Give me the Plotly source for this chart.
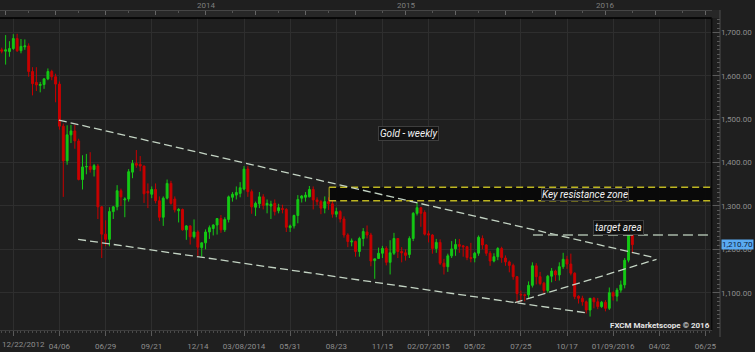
import pandas as pd
import plotly.graph_objects as go

# ---------------- data ----------------
first_week = "2012-12-22"
opens = [1660,1657,1656,1663,1686,1658,1667,1669,1610,1585,1578,1580,1593,1610,1598,1581,1484,1404,1464,1473,
         1450,1361,1390,1391,1384,1392,1298,1235,1223,1287,1298,1335,1314,1316,1378,1398,1396,1392,1334,1327,
         1338,1312,1274,1318,1352,1316,1289,1292,1245,1254,1229,1240,1204,1215,1240,1248,1256,1271,1245,1269,
         1320,1325,1329,1339,1385,1333,1297,1305,1321,1302,1300,1306,1289,1294,1292,1250,1254,1278,1318,1320,
         1321,1338,1314,1310,1295,1310,1305,1281,1287,1270,1233,1217,1218,1195,1225,1240,1233,1174,1179,1191,
         1202,1170,1191,1225,1195,1192,1188,1225,1283,1296,1285,1236,1233,1202,1216,1168,1160,1185,1201,1211,
         1208,1206,1181,1180,1191,1225,1210,1191,1173,1183,1202,1180,1171,1163,1137,1096,1095,1095,1117,1162,
         1137,1122,1105,1138,1150,1141,1160,1177,1166,1145,1092,1087,1079,1060,1087,1079,1068,1078,1064,1100,
         1092,1106,1118,1175,1237]
highs = [1665,1694,1680,1696,1697,1685,1684,1675,1620,1620,1586,1595,1617,1614,1605,1587,1490,1486,1487,1487,
         1455,1417,1420,1424,1397,1397,1300,1267,1297,1300,1348,1340,1320,1385,1406,1429,1415,1393,1352,1345,
         1352,1322,1322,1361,1358,1322,1295,1294,1256,1256,1269,1244,1216,1246,1255,1258,1272,1279,1274,1324,
         1332,1345,1355,1392,1392,1338,1310,1332,1327,1315,1312,1315,1305,1303,1295,1257,1280,1325,1325,1332,
         1346,1345,1320,1314,1322,1320,1312,1296,1290,1276,1237,1225,1220,1229,1249,1255,1238,1177,1204,1208,
         1207,1221,1238,1226,1205,1200,1230,1286,1307,1298,1290,1243,1235,1224,1223,1178,1190,1219,1224,1224,
         1210,1208,1215,1194,1232,1232,1212,1196,1191,1205,1206,1186,1174,1167,1138,1105,1098,1126,1170,1168,
         1148,1125,1141,1157,1153,1170,1192,1185,1190,1147,1094,1093,1082,1088,1090,1088,1081,1083,1112,1103,
         1111,1128,1180,1264,1243]
lows = [1652,1626,1644,1660,1655,1652,1660,1598,1555,1565,1562,1570,1590,1590,1539,1476,1321,1395,1445,1432,
        1359,1338,1373,1377,1368,1270,1180,1207,1207,1270,1290,1300,1274,1310,1364,1388,1380,1307,1295,1318,
        1306,1265,1254,1315,1303,1285,1262,1243,1222,1211,1225,1185,1183,1200,1224,1232,1234,1238,1240,1262,
        1310,1315,1320,1336,1321,1282,1277,1295,1292,1283,1270,1278,1283,1283,1240,1240,1248,1260,1308,1310,
        1320,1292,1302,1281,1283,1291,1273,1274,1262,1227,1205,1207,1183,1183,1207,1225,1161,1132,1178,1180,
        1163,1142,1187,1180,1170,1174,1180,1219,1278,1252,1232,1216,1190,1192,1164,1142,1148,1180,1185,1192,
        1183,1175,1170,1170,1185,1200,1185,1162,1170,1175,1169,1162,1147,1130,1077,1078,1080,1088,1112,1119,
        1117,1098,1100,1124,1127,1128,1155,1155,1140,1085,1075,1070,1052,1045,1064,1062,1065,1057,1060,1082,
        1080,1100,1110,1170,1191]
closes = [1657,1660,1663,1686,1658,1668,1669,1610,1582,1579,1580,1593,1610,1598,1581,1484,1404,1464,1473,1450,
          1361,1390,1391,1384,1393,1298,1235,1223,1287,1298,1335,1321,1316,1379,1398,1394,1392,1328,1330,1338,
          1312,1274,1318,1352,1306,1291,1292,1245,1254,1229,1240,1205,1215,1240,1250,1256,1271,1245,1269,1321,
          1327,1331,1342,1385,1333,1298,1306,1321,1301,1306,1304,1287,1296,1292,1251,1254,1278,1315,1323,1325,
          1338,1314,1310,1295,1310,1305,1281,1287,1270,1233,1218,1219,1195,1225,1241,1233,1173,1178,1191,1202,
          1170,1192,1225,1195,1192,1186,1225,1283,1296,1283,1235,1233,1202,1216,1168,1160,1185,1201,1211,1207,
          1206,1181,1179,1191,1228,1210,1191,1173,1183,1202,1181,1171,1163,1137,1098,1095,1094,1117,1162,1137,
          1121,1105,1138,1150,1141,1160,1177,1166,1145,1091,1087,1079,1060,1087,1079,1068,1078,1064,1100,1092,
          1106,1118,1175,1237,1210.7]
week_dates = pd.date_range(first_week, periods=len(opens), freq="7D")
last_price = closes[-1]

x_tick_dates = ["2013-01-12", "2013-04-06", "2013-06-29", "2013-09-21", "2013-12-14", "2014-03-08",
                "2014-05-31", "2014-08-23", "2014-11-15", "2015-02-07", "2015-05-02", "2015-07-25",
                "2015-10-17", "2016-01-09", "2016-04-02", "2016-06-25"]
x_tick_labels = ["", "04/06", "06/29", "09/21", "12/14", "03/08/2014", "05/31", "08/23", "11/15",
                 "02/07/2015", "05/02", "07/25", "10/17", "01/09/2016", "04/02", "06/25"]
first_date_label = "12/22/2012"
x_range = ["2012-12-18 19:00", "2016-07-06 10:00"]
y_range = [1014, 1733.4]
y_ticks = [1100, 1200, 1300, 1400, 1500, 1600, 1700]

year_starts = ["2013-01-01", "2014-01-01", "2015-01-01", "2016-01-01"]
year_labels = ["", "2014", "2015", "2016"]
quarter_starts = [f"{y}-{m:02d}-01" for y in (2013, 2014, 2015, 2016) for m in (1, 4, 7, 10)]
mid_quarters = [f"{y}-{m:02d}-15" for y in (2013, 2014, 2015, 2016) for m in (2, 5, 8, 11)]
strip_marker_level = 1745

upper_trend_x = ["2013-04-05", "2016-03-21"]
upper_trend_y = [1498, 1182]
lower_trend_x = ["2013-05-10", "2015-11-24"]
lower_trend_y = [1223, 1053]
rising_trend_x = ["2015-07-14", "2016-03-28"]
rising_trend_y = [1077, 1177]
zone_start = "2014-08-10"
zone_levels = [1312, 1343]
target_start = "2015-08-16"
target_level = 1233

title_text = "Gold - weekly"
title_pos = ("2015-01-02", 1467)
zone_text = "Key resistance zone"
zone_label_x = "2015-11-18"
target_text = "target area"
target_label_pos = ("2016-01-19", 1250)
brand_text = "FXCM Marketscope © 2016"


def bar_date(d):
    t = pd.Timestamp(d)
    return t - pd.Timedelta(days=(t.weekday() - 5) % 7)


year_bars = [bar_date(d) for d in year_starts]
quarter_bars = [bar_date(d) for d in quarter_starts]
mid_bars = [bar_date(d) for d in mid_quarters]

# ---------------- geometry / style ----------------
W, H = 755, 352
BG = "#1f1f1f"
GRID = "#2e2e2e"
AX = "#5a5a5a"
TXT = "#8e8e8e"
YEL = "#bdb521"
plot_right = 711.7 / W
axis_x = 720 / W
top_px, strip_px, bottom_px = 10, 18, 330
ph = bottom_px - top_px
dom_top = (bottom_px - strip_px) / ph


def py(pix):
    return (bottom_px - pix) / ph


fig = go.Figure()
fig.add_trace(go.Candlestick(
    x=week_dates, open=opens, high=highs, low=lows, close=closes,
    increasing=dict(line=dict(color="#14c814", width=1), fillcolor="#14c814"),
    decreasing=dict(line=dict(color="#c80000", width=1), fillcolor="#c80000"),
    whiskerwidth=0, hoverinfo="skip", showlegend=False, xaxis="x", yaxis="y"))

fig.add_trace(go.Scatter(
    x=year_bars, y=[strip_marker_level] * len(year_bars), mode="markers",
    marker=dict(symbol="triangle-down", size=7, color="#c8960a", line=dict(width=0)),
    cliponaxis=False, hoverinfo="skip", showlegend=False, xaxis="x2", yaxis="y"))

font_small = dict(family="Roboto", size=8, color=TXT)

fig.update_layout(
    width=W, height=H, margin=dict(l=0, r=0, t=top_px, b=H - bottom_px),
    paper_bgcolor=BG, plot_bgcolor=BG, boxgap=0.3,
    xaxis=dict(type="date", domain=[0, plot_right], range=x_range, anchor="y",
               rangeslider=dict(visible=False),
               tickmode="array", tickvals=x_tick_dates, ticktext=x_tick_labels,
               showgrid=True, gridcolor=GRID, gridwidth=1,
               ticks="outside", ticklen=5, tickcolor=AX, tickwidth=1,
               minor=dict(tick0=first_week, dtick=7 * 86400000, ticks="outside", ticklen=2,
                          tickcolor="#4a4a4a", showgrid=False),
               showline=True, linecolor="#3c3c3c", linewidth=1,
               tickfont=font_small, ticklabelstandoff=3, zeroline=False, automargin=False),
    xaxis2=dict(type="date", overlaying="x", anchor="free", position=1.0, side="top",
                domain=[0, plot_right], range=x_range, showgrid=False,
                tickmode="array", tickvals=quarter_bars, ticks="inside", ticklen=4,
                tickcolor="#666666", showticklabels=False,
                minor=dict(tickmode="array", tickvals=mid_bars, ticks="inside", ticklen=2,
                           tickcolor="#555555", showgrid=False),
                showline=True, linecolor="#454545", linewidth=1, zeroline=False, automargin=False),
    yaxis=dict(domain=[0, dom_top], range=y_range, anchor="free", position=axis_x, side="right",
               tickmode="array", tickvals=y_ticks, tickformat=",.2f",
               showgrid=True, gridcolor=GRID, gridwidth=1,
               ticks="inside", ticklen=8, tickcolor=AX, tickwidth=1,
               minor=dict(dtick=10, ticks="inside", ticklen=3, tickcolor=AX, showgrid=False),
               showline=False, tickfont=font_small, zeroline=False, automargin=False),
)

shapes = []
# top strip
shapes.append(dict(type="rect", xref="paper", yref="paper", x0=0, x1=axis_x, y0=dom_top, y1=1.0,
                   fillcolor="#272727", line=dict(width=0), layer="below"))
shapes.append(dict(type="line", xref="paper", yref="paper", x0=0, x1=plot_right, y0=dom_top, y1=dom_top,
                   line=dict(color="#000000", width=1.5)))
shapes.append(dict(type="line", xref="paper", yref="paper", x0=plot_right, x1=plot_right, y0=0, y1=dom_top,
                   line=dict(color="#0a0a0a", width=1.5)))
shapes.append(dict(type="line", xref="paper", yref="paper", x0=axis_x, x1=axis_x, y0=py(337), y1=1.0,
                   line=dict(color="#4e4e4e", width=1)))
# resistance zone: dark fill, dashed top/bottom, left edge
shapes.append(dict(type="rect", xref="x", yref="y", x0=zone_start, x1=x_range[1],
                   y0=zone_levels[0], y1=zone_levels[1], fillcolor="rgba(8,8,8,0.92)",
                   line=dict(width=0)))
for lvl in zone_levels:
    shapes.append(dict(type="line", xref="x", yref="y", x0=zone_start, x1=x_range[1],
                       y0=lvl, y1=lvl, line=dict(color=YEL, width=1.5, dash="7px,4px")))
shapes.append(dict(type="line", xref="x", yref="y", x0=zone_start, x1=zone_start,
                   y0=zone_levels[0], y1=zone_levels[1], line=dict(color=YEL, width=1)))
# trend lines
trend_line = dict(color="#c4d4c4", width=1.3, dash="8px,4px")
for xs, ys in ((upper_trend_x, upper_trend_y), (lower_trend_x, lower_trend_y),
               (rising_trend_x, rising_trend_y)):
    shapes.append(dict(type="line", xref="x", yref="y", x0=xs[0], x1=xs[1], y0=ys[0], y1=ys[1],
                       line=trend_line))
shapes.append(dict(type="line", xref="x", yref="y", x0=target_start, x1=x_range[1],
                   y0=target_level, y1=target_level,
                   line=dict(color="#a8b8a8", width=1.3, dash="10px,5px")))
fig.update_layout(shapes=shapes)

label_font = dict(family="Roboto", size=10, color="#f2f2f2", style="italic")
box = dict(bgcolor="#111111", bordercolor="#3e3e3e", borderwidth=1, borderpad=1)
ann = []
ann.append(dict(x=title_pos[0], y=title_pos[1], xref="x", yref="y", text=title_text,
                showarrow=False, font=label_font, **box))
ann.append(dict(x=zone_label_x, y=sum(zone_levels) / 2, xref="x", yref="y", text=zone_text,
                showarrow=False, font=label_font, bgcolor="#111111", bordercolor="#3e3e3e",
                borderwidth=1, borderpad=0))
ann.append(dict(x=target_label_pos[0], y=target_label_pos[1], xref="x", yref="y", text=target_text,
                showarrow=False, font=label_font, **box))
ann.append(dict(x=axis_x + 0.6 / W, y=last_price, xref="paper", yref="y", xanchor="left",
                text=f"{last_price:,.2f}", showarrow=False, width=31, height=9,
                bgcolor="#5aaaf2", borderpad=0,
                font=dict(family="Roboto", size=8, color="#0a1a3a")))
ann.append(dict(x=plot_right, y=py(325.5), xref="paper", yref="paper", xanchor="right",
                yanchor="middle", text=brand_text, showarrow=False,
                font=dict(family="Roboto", size=8, color="#e4e4e4", weight="bold")))
ann.append(dict(x=0, y=py(344.5), xref="paper", yref="paper", xanchor="left", yanchor="middle",
                text=first_date_label, showarrow=False, font=font_small))
for d, lab in zip(year_bars, year_labels):
    if lab:
        ann.append(dict(x=d, y=py(5), xref="x", yref="paper", yanchor="middle", text=lab,
                        showarrow=False, font=dict(family="Roboto", size=8, color="#7e7e7e")))
fig.update_layout(annotations=ann)

fig.write_html("out.html")
